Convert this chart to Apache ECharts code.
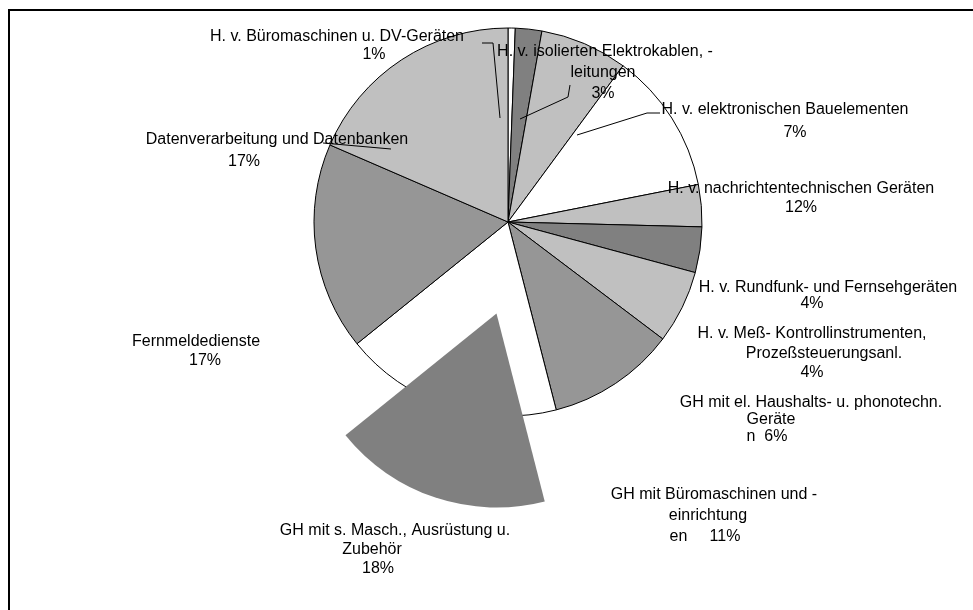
<!DOCTYPE html>
<html>
<head>
<meta charset="utf-8">
<title>Pie</title>
<script src="https://cdn.jsdelivr.net/npm/echarts@6.0.0/dist/echarts.min.js"></script>
<style>
  html, body { margin: 0; padding: 0; background: #fff; }
  #chart { width: 973px; height: 610px; }
</style>
</head>
<body>
<div id="chart"></div>
<script>
const categories = [
  'H. v. Büromaschinen u. DV-Geräten',
  'H. v. isolierten Elektrokablen, -leitungen',
  'H. v. elektronischen Bauelementen',
  'H. v. nachrichtentechnischen Geräten',
  'H. v. Rundfunk- und Fernsehgeräten',
  'H. v. Meß- Kontrollinstrumenten, Prozeßsteuerungsanl.',
  'GH mit el. Haushalts- u. phonotechn. Geräten',
  'GH mit Büromaschinen und -einrichtungen',
  'GH mit s. Masch., Ausrüstung u. Zubehör',
  'Fernmeldedienste',
  'Datenverarbeitung und Datenbanken'
];
// slice shares as drawn (percent)
const shares = [0.6, 2.2, 7.3, 11.8, 3.5, 3.8, 6.1, 10.7, 18.2, 17.3, 18.5];
// percentages as printed on the labels
const pctLabels = ['1%', '3%', '7%', '12%', '4%', '4%', '6%', '11%', '18%', '17%', '17%'];
// label text as it is wrapped in the picture
const nameLines = [
  ['H. v. Büromaschinen u. DV-Geräten'],
  ['H. v. isolierten Elektrokablen, -', 'leitungen'],
  ['H. v. elektronischen Bauelementen'],
  ['H. v. nachrichtentechnischen Geräten'],
  ['H. v. Rundfunk- und Fernsehgeräten'],
  ['H. v. Meß- Kontrollinstrumenten,', 'Prozeßsteuerungsanl.'],
  ['GH mit el. Haushalts- u. phonotechn.', 'Geräte'],
  ['GH mit Büromaschinen und -', 'einrichtung'],
  ['GH mit s. Masch., Ausrüstung u.', 'Zubehör'],
  ['Fernmeldedienste'],
  ['Datenverarbeitung und Datenbanken']
];
const pctPrefix = ['', '', '', '', '', '', 'n  ', 'en     ', '', '', ''];
const sliceColors = ['#ffffff', '#808080', '#c0c0c0', '#ffffff', '#c0c0c0', '#808080',
  '#c0c0c0', '#969696', '#808080', '#969696', '#c0c0c0'];
const explodedIndex = 8;

// where each label sits: centre x, first line centre y, line height, per-line x shift
const labelSpots = [
  { cx: 337, cy: 37, lh: 18, shift: [0, 37] },
  { cx: 605, cy: 52, lh: 21, shift: [0, -2, -2] },
  { cx: 785, cy: 110, lh: 23, shift: [0, 10] },
  { cx: 801, cy: 189, lh: 19, shift: [0, 0] },
  { cx: 828, cy: 288, lh: 16, shift: [0, -16] },
  { cx: 812, cy: 334, lh: 19.5, shift: [0, 12, 0] },
  { cx: 811, cy: 403, lh: 17, shift: [0, -40, -44] },
  { cx: 714, cy: 495, lh: 21, shift: [0, -6, -9] },
  { cx: 395, cy: 531, lh: 19, shift: [0, -23, -17] },
  { cx: 196, cy: 342, lh: 19, shift: [0, 9] },
  { cx: 277, cy: 140, lh: 22, shift: [0, -33] }
];
// leader lines from the labels into the pie
const leaderLines = [
  [[500, 118], [493, 43], [482, 43]],
  [[520, 119], [568, 97], [570, 85]],
  [[577, 135], [647, 113], [660, 113]],
  [[391, 149], [357, 146], [323, 143]]
];

const FONT = "'Liberation Sans', Arial, sans-serif";

function labelLinesFor(i) {
  return nameLines[i].concat([pctPrefix[i] + pctLabels[i]]);
}

function richFor(i) {
  const spot = labelSpots[i];
  const rich = {};
  labelLinesFor(i).forEach((t, j) => {
    const s = spot.shift[j] || 0;
    rich['l' + j] = {
      fontSize: 16,
      fontFamily: FONT,
      color: '#000',
      lineHeight: spot.lh,
      padding: s > 0 ? [0, 0, 0, 2 * s] : [0, -2 * s, 0, 0]
    };
  });
  return rich;
}

const chart = echarts.init(document.getElementById('chart'));

const mainData = categories.map((name, i) => ({
  name,
  value: shares[i],
  itemStyle: { color: i === explodedIndex ? '#ffffff' : sliceColors[i] },
  label: {
    formatter: labelLinesFor(i).map((t, j) => '{l' + j + '|' + t + '}').join('\n'),
    rich: richFor(i),
    lineHeight: labelSpots[i].lh
  }
}));

const explodedData = categories.map((name, i) => ({
  name,
  value: shares[i],
  itemStyle: i === explodedIndex
    ? { color: sliceColors[i], borderWidth: 0 }
    : { color: 'transparent', borderWidth: 0 }
}));

const frame = {
  type: 'polyline',
  shape: { points: [[9, 610], [9, 10], [973, 10]] },
  style: { stroke: '#000', lineWidth: 2, fill: null }
};
const leaders = leaderLines.map(pts => ({
  type: 'polyline',
  z: 100,
  shape: { points: pts },
  style: { stroke: '#000', lineWidth: 1, fill: null }
}));

chart.setOption({
  animation: false,
  backgroundColor: '#fff',
  graphic: [frame].concat(leaders),
  series: [
    {
      type: 'pie',
      center: [508, 222],
      radius: 194,
      startAngle: 90,
      clockwise: true,
      avoidLabelOverlap: false,
      emphasis: { disabled: true },
      itemStyle: { borderColor: '#000', borderWidth: 1 },
      label: {
        show: true,
        position: 'outside',
        fontSize: 16,
        fontFamily: FONT,
        color: '#000'
      },
      labelLine: { show: false },
      labelLayout: function (params) {
        const s = labelSpots[params.dataIndex];
        return { x: s.cx, y: s.cy - s.lh / 2, align: 'center', verticalAlign: 'top' };
      },
      data: mainData
    },
    {
      // the pulled-out slice, drawn on its own shifted centre
      type: 'pie',
      z: 3,
      center: [496.5, 313.5],
      radius: 194,
      startAngle: 90,
      clockwise: true,
      silent: true,
      emphasis: { disabled: true },
      label: { show: false },
      labelLine: { show: false },
      data: explodedData
    }
  ]
});
</script>
</body>
</html>
